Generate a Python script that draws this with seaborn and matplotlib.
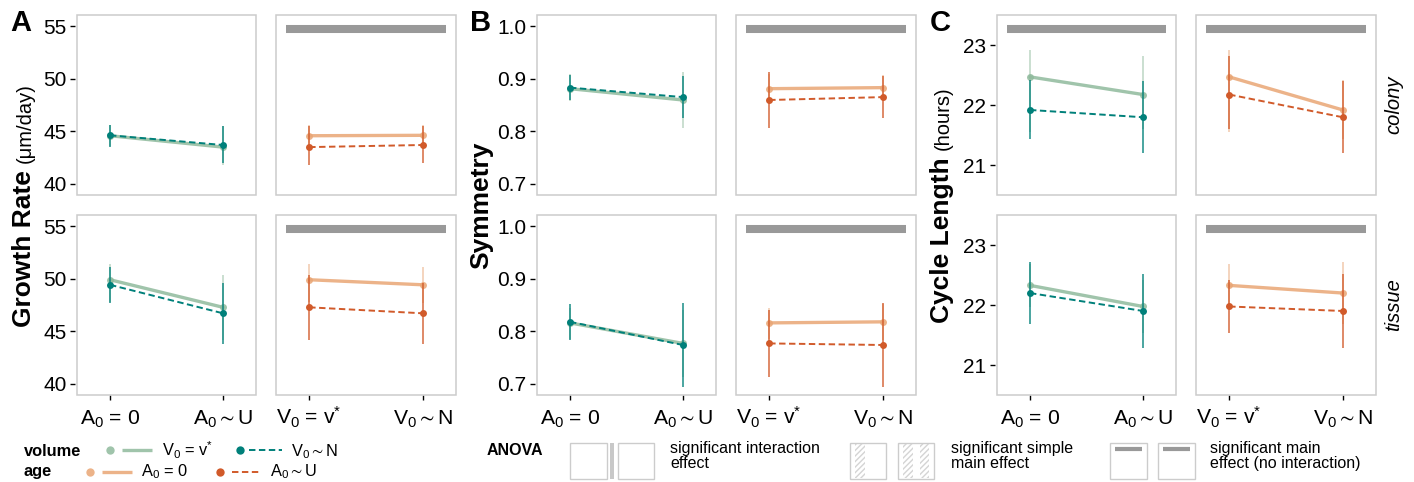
import numpy as np
import pandas as pd
import matplotlib
matplotlib.use("Agg")
import matplotlib.pyplot as plt
import seaborn as sns
from matplotlib.patches import Rectangle

sns.set_theme(style="white")
plt.rcParams['font.family'] = ['Liberation Sans', 'DejaVu Sans']
plt.rcParams['mathtext.fontset'] = 'custom'
plt.rcParams['mathtext.rm'] = 'Liberation Sans'
plt.rcParams['mathtext.it'] = 'Liberation Sans:italic'
plt.rcParams['mathtext.bf'] = 'Liberation Sans:bold'
plt.rcParams['mathtext.fallback'] = 'stixsans'

# ---------------- data ----------------
AGE_LEVELS = [r"A$_0$ = 0", r"A$_0\sim$U"]
VOL_LEVELS = [r"V$_0$ = v$^{*}$", r"V$_0\sim$N"]
ROWS = ["colony", "tissue"]
# cell order: (A0=0,V0=v*), (A0=0,V0~N), (A0~U,V0=v*), (A0~U,V0~N)
CELL_AGE = [0, 0, 1, 1]
CELL_VOL = [0, 1, 0, 1]

GROWTH_MEAN = [[44.58, 44.62, 43.50, 43.70], [49.90, 49.42, 47.28, 46.71]]
GROWTH_LO = [[43.60, 43.54, 41.80, 41.96], [47.80, 47.72, 44.20, 43.80]]
GROWTH_HI = [[45.60, 45.60, 45.50, 45.50], [51.40, 51.12, 50.34, 49.55]]

SYM_MEAN = [[0.881, 0.883, 0.8595, 0.865], [0.816, 0.818, 0.777, 0.774]]
SYM_LO = [[0.857, 0.859, 0.806, 0.825], [0.786, 0.784, 0.7126, 0.694]]
SYM_HI = [[0.908, 0.907, 0.913, 0.906], [0.844, 0.852, 0.840, 0.8535]]

CYCLE_MEAN = [[22.475, 21.922, 22.18, 21.80], [22.333, 22.205, 21.98, 21.905]]
CYCLE_LO = [[21.55, 21.43, 21.60, 21.21], [21.97, 21.68, 21.545, 21.29]]
CYCLE_HI = [[22.93, 22.42, 22.82, 22.41], [22.69, 22.72, 22.42, 22.52]]

# significant main effect bars, [row][left panel, right panel]
GROWTH_SIG = [[False, True], [False, True]]
SYM_SIG = [[False, True], [False, True]]
CYCLE_SIG = [[True, True], [False, True]]

GROWTH_TICKS = [40, 45, 50, 55]
SYM_TICKS = [0.7, 0.8, 0.9, 1.0]
CYCLE_TICKS = [21, 22, 23]

VOL_COLORS = ["#8FBA9C", "#00807A"]
AGE_COLORS = ["#E9A675", "#D15A2A"]

# ---------------- long table ----------------
metric_specs = [
    ("growth", GROWTH_MEAN, GROWTH_LO, GROWTH_HI),
    ("sym", SYM_MEAN, SYM_LO, SYM_HI),
    ("cycle", CYCLE_MEAN, CYCLE_LO, CYCLE_HI),
]
records = []
for key, means, los, his in metric_specs:
    for r, row in enumerate(ROWS):
        for c in range(4):
            records.append(dict(metric=key, row=row, age=CELL_AGE[c], vol=CELL_VOL[c],
                                mean=means[r][c], lo=los[r][c], hi=his[r][c]))
df = pd.DataFrame(records)

# ---------------- figure ----------------
W, H = 1414, 482
fig = plt.figure(figsize=(W / 100, H / 100), dpi=100)


def add_px_axes(x0, y0, x1, y1):
    return fig.add_axes([x0 / W, 1 - y1 / H, (x1 - x0) / W, (y1 - y0) / H])


overlay = fig.add_axes([0, 0, 1, 1], zorder=-5)
overlay.set_xlim(0, W)
overlay.set_ylim(H, 0)
overlay.axis("off")
overlay.patch.set_alpha(0)

STYLES = [
    dict(lw=2.4, alpha=0.85, ms=5.0, dashes=None, err_alpha=0.6),
    dict(lw=1.4, alpha=1.0, ms=5.0, dashes=(3.3, 1.8), err_alpha=0.9),
]


def draw_panel(ax, sub, xcol, hcol, colors):
    for h in (0, 1):
        d = sub[sub[hcol] == h].sort_values(xcol)
        st = STYLES[h]
        ax.vlines(d[xcol], d["lo"], d["hi"], colors=colors[h], lw=1.1,
                  alpha=st["err_alpha"], zorder=2 + 2 * h)
        sns.lineplot(data=d, x=xcol, y="mean", color=colors[h], lw=st["lw"],
                     alpha=st["alpha"], marker="o", markersize=st["ms"],
                     markeredgewidth=0, errorbar=None, ax=ax, zorder=3 + 2 * h)
        if st["dashes"]:
            ax.lines[-1].set_dashes(st["dashes"])


blocks = [
    ("growth", (77, 256, 276, 456), (38.95, 56.05), GROWTH_TICKS, GROWTH_SIG, "%g"),
    ("sym", (537, 716, 736, 916), (0.679, 1.021), SYM_TICKS, SYM_SIG, "%.1f"),
    ("cycle", (997, 1176, 1196, 1376), (20.50, 23.51), CYCLE_TICKS, CYCLE_SIG, "%g"),
]
row_px = [(15, 195), (215, 395)]

for key, xs, ylim, ticks, sig, fmt in blocks:
    for r, row in enumerate(ROWS):
        sub = df[(df.metric == key) & (df.row == row)]
        for side in (0, 1):
            x0, x1 = xs[2 * side], xs[2 * side + 1]
            y0, y1 = row_px[r]
            ax = add_px_axes(x0, y0, x1, y1)
            if side == 0:
                draw_panel(ax, sub, "age", "vol", VOL_COLORS)
                labels = AGE_LEVELS
            else:
                draw_panel(ax, sub, "vol", "age", AGE_COLORS)
                labels = VOL_LEVELS
            ax.set_xlim(-0.292, 1.292)
            ax.set_ylim(*ylim)
            ax.set_xticks([0, 1])
            ax.set_xticklabels(labels)
            ax.set_yticks(ticks)
            ax.set_yticklabels([fmt % t for t in ticks])
            ax.set_xlabel("")
            ax.set_ylabel("")
            ax.grid(False)
            for s in ax.spines.values():
                s.set_visible(False)
            ax.spines["left"].set_position(("outward", 1.5))
            ax.add_patch(Rectangle((0, 0), 1, 1, transform=ax.transAxes, fill=False,
                                   ec="#CCCCCC", lw=1.1, clip_on=False, zorder=10))
            is_left = side == 0
            is_bottom = r == 1
            ax.tick_params(axis="y", left=is_left, labelleft=is_left, length=3.6,
                           width=1.0, color="black", pad=2.5, labelsize=15,
                           labelcolor="black", direction="out")
            ax.tick_params(axis="x", bottom=is_bottom, labelbottom=is_bottom,
                           length=3.6, width=1.0, color="black", pad=17.5,
                           labelsize=15.2, labelcolor="black", direction="out")
            for tl in ax.get_xticklabels():
                tl.set_verticalalignment("baseline")
            if sig[r][side]:
                ax.plot([-0.2, 1.2], [0.922, 0.922], transform=ax.get_xaxis_transform(),
                        color="#999999", lw=5.8, solid_capstyle="butt", zorder=6)

# ---------------- y labels & letters ----------------
renderer = fig.canvas.get_renderer()
ylabels = [("Growth Rate", "(μm/day)", 31), ("Symmetry", None, 488),
           ("Cycle Length", "(hours)", 949)]
for main, unit, xb in ylabels:
    t1 = overlay.text(xb, 0, main, rotation=90, rotation_mode="anchor", ha="left",
                      va="baseline", fontsize=19, fontweight="bold", color="black")
    h1 = t1.get_window_extent(renderer).height
    h2 = 0
    gap = 7
    t2 = None
    if unit:
        t2 = overlay.text(xb, 0, unit, rotation=90, rotation_mode="anchor", ha="left",
                          va="baseline", fontsize=14.5, color="black")
        h2 = t2.get_window_extent(renderer).height
    else:
        gap = 0
    total = h1 + gap + h2
    ybot = 205 + total / 2
    t1.set_y(ybot)
    if t2 is not None:
        t2.set_y(ybot - h1 - gap)

for letter, xl in [("A", 10), ("B", 470), ("C", 930)]:
    overlay.text(xl, 31, letter, fontsize=21, fontweight="bold", ha="left",
                 va="baseline", color="black")

for r, row in enumerate(ROWS):
    overlay.text(1394, (row_px[r][0] + row_px[r][1]) / 2, row, rotation=90,
                 ha="center", va="center", style="italic", fontsize=14.5, color="black")

# ---------------- legend ----------------
LFS = 11.8


def legend_item(xdot, xl0, xl1, xt, y, yb, color, h, label):
    st = STYLES[h]
    overlay.plot([xdot], [y], marker="o", ms=6, mew=0, color=color, alpha=st["alpha"])
    ln, = overlay.plot([xl0, xl1], [y, y], color=color, lw=st["lw"], alpha=st["alpha"],
                       solid_capstyle="butt")
    if st["dashes"]:
        ln.set_dashes(st["dashes"])
        ln.set_dash_capstyle("butt")
    overlay.text(xt, yb, label, fontsize=LFS, va="baseline", ha="left", color="black")


overlay.text(24, 456, "volume", fontsize=LFS, fontweight="bold", va="baseline", color="black")
legend_item(110, 122, 152, 162, 449.5, 456, VOL_COLORS[0], 0, VOL_LEVELS[0])
legend_item(240, 249, 282, 291, 449.5, 456, VOL_COLORS[1], 1, VOL_LEVELS[1])
overlay.text(24, 476, "age", fontsize=LFS, fontweight="bold", va="baseline", color="black")
legend_item(90, 102, 132, 141, 471.5, 476, AGE_COLORS[0], 0, AGE_LEVELS[0])
legend_item(220, 232, 261, 270, 471.5, 476, AGE_COLORS[1], 1, AGE_LEVELS[1])

overlay.text(487, 455, "ANOVA", fontsize=11.5, fontweight="bold", va="baseline", color="black")


def mini_box(x0, x1):
    overlay.add_patch(Rectangle((x0, 443), x1 - x0, 36, fill=False, ec="#CCCCCC", lw=1.0))


mini_box(570, 607)
overlay.add_patch(Rectangle((610, 443), 4, 36, fc="#C8C8C8", ec="none"))
mini_box(618, 654)
overlay.text(670, 453, "significant interaction", fontsize=11.5, va="baseline", color="black")
overlay.text(670, 468, "effect", fontsize=11.5, va="baseline", color="black")

mini_box(850, 886)
mini_box(898, 934)
for hx0, hx1 in [(855, 865), (903, 913), (920, 929)]:
    overlay.add_patch(Rectangle((hx0, 444), hx1 - hx0, 34, fill=False, hatch="//////",
                                ec="#D4D4D4", lw=0))
overlay.text(951, 453, "significant simple", fontsize=11.5, va="baseline", color="black")
overlay.text(951, 468, "main effect", fontsize=11.5, va="baseline", color="black")

mini_box(1110, 1147)
mini_box(1158, 1195)
for bx0, bx1 in [(1115, 1142), (1163, 1190)]:
    overlay.plot([bx0, bx1], [448.5, 448.5], color="#999999", lw=3, solid_capstyle="butt")
overlay.text(1210, 453, "significant main", fontsize=11.5, va="baseline", color="black")
overlay.text(1210, 468, "effect (no interaction)", fontsize=11.5, va="baseline", color="black")

fig.savefig("out.png", dpi=100, facecolor="white")
